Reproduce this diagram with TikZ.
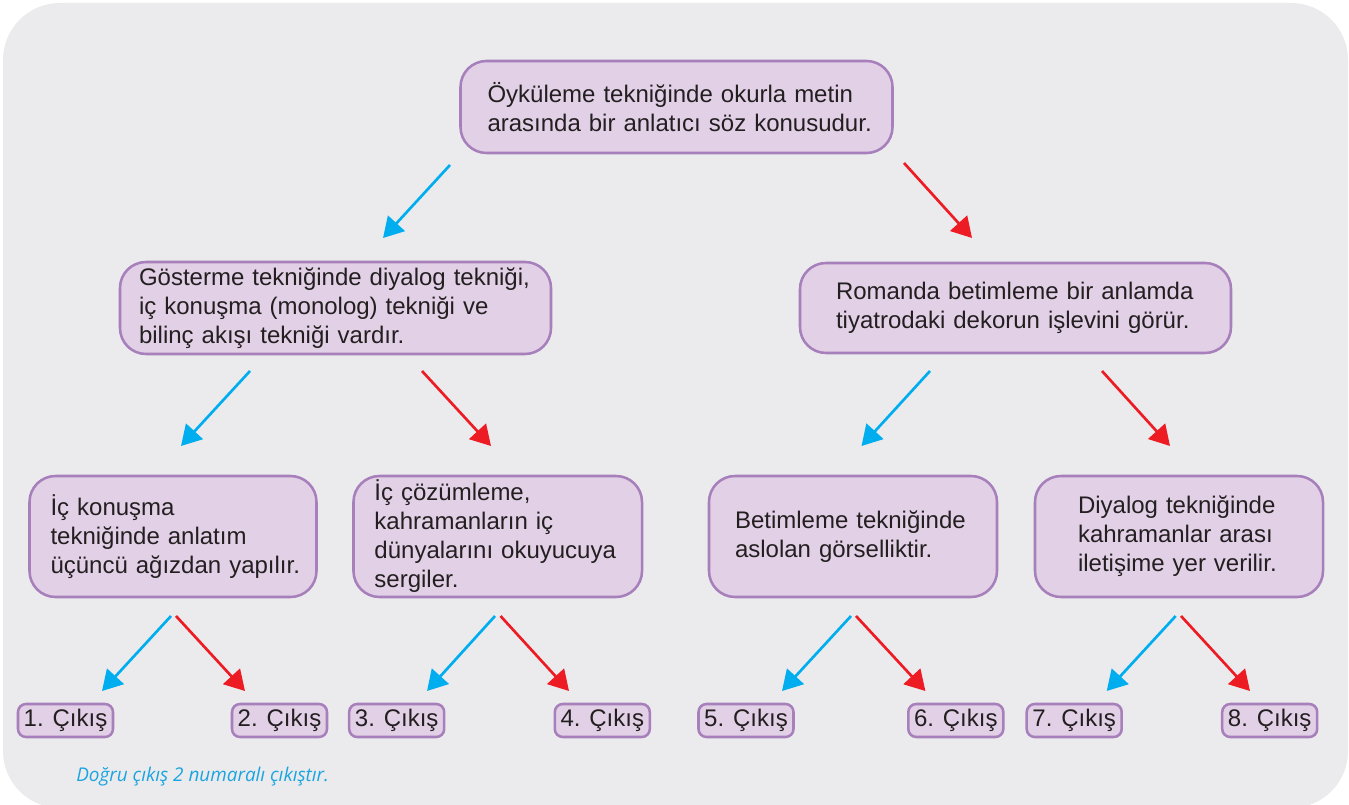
\documentclass[tikz,border=0pt]{standalone}
\usepackage{fontspec}
\setmainfont{Liberation Sans}
\newfontfamily\notefont{Open Sans}
\usetikzlibrary{arrows.meta}
\definecolor{bgc}{HTML}{EBEBED}
\definecolor{boxfill}{HTML}{E2D0E6}
\definecolor{boxline}{HTML}{A67FBB}
\definecolor{arrblue}{HTML}{00AEEF}
\definecolor{arrred}{HTML}{ED1C24}
\definecolor{txt}{HTML}{231F20}
\definecolor{notec}{HTML}{1BA5E0}
\begin{document}
\begin{tikzpicture}[x=0.75pt,y=-0.75pt,
  bigbox/.style={draw=boxline, fill=boxfill, line width=1.9pt, rounded corners=19.5pt,
    inner xsep=0pt, inner ysep=0pt, align=left, text=txt,
    font=\fontsize{18}{21.75}\selectfont},
  exitbox/.style={draw=boxline, fill=boxfill, line width=1.9pt, rounded corners=6pt,
    minimum width=71.25pt, minimum height=24.75pt, inner sep=0pt, text=txt,
    font=\fontsize{18}{21.75}\selectfont},
  bl/.style={draw=arrblue, line width=2pt, -{Triangle[length=15pt,width=17pt]}},
  rd/.style={draw=arrred, line width=2pt, -{Triangle[length=15pt,width=17pt]}}]

\useasboundingbox (0,0) rectangle (1349,805);
\fill[white] (0,0) rectangle (1349,805);
\fill[bgc, rounded corners=42.75pt] (3,3) rectangle (1348,808);

% level 1
\node[bigbox, text width=324pt, minimum height=69pt] (top) at (676.5,107)
  {\leftskip=20.25pt\relax Öyküleme tekniğinde okurla metin\\arasında bir anlatıcı söz konusudur.\par};

% level 2
\node[bigbox, text width=323.25pt, minimum height=69pt] (gos) at (335.5,308)
  {\leftskip=14.25pt\relax Gösterme tekniğinde diyalog tekniği,\\iç konuşma (monolog) tekniği ve\\bilinç akışı tekniği vardır.\par};
\node[bigbox, text width=323.25pt, minimum height=67.5pt] (rom) at (1015.5,308)
  {\leftskip=27pt\relax Romanda betimleme bir anlamda\\tiyatrodaki dekorun işlevini görür.\par};

% level 3
\node[bigbox, text width=215.25pt, minimum height=90.75pt] (ick) at (173,536.5)
  {\leftskip=15.75pt\relax İç konuşma\\tekniğinde anlatım\\üçüncü ağızdan yapılır.\par};
\node[bigbox, text width=216.4pt, minimum height=90.75pt] (icc) at (497.75,536.5)
  {\leftskip=15.75pt\relax İç çözümleme,\\kahramanların iç\\dünyalarını okuyucuya\\sergiler.\par};
\node[bigbox, text width=216pt, minimum height=90.75pt] (bet) at (853,536.5)
  {\leftskip=19.5pt\relax Betimleme tekniğinde\\aslolan görselliktir.\par};
\node[bigbox, text width=216pt, minimum height=90.75pt] (diy) at (1179,536.5)
  {\leftskip=32.25pt\relax Diyalog tekniğinde\\kahramanlar arası\\iletişime yer verilir.\par};

% exits
\node[exitbox] (e1) at (65.5,720.5) {1. Çıkış};
\node[exitbox] (e2) at (279.5,720.5) {2. Çıkış};
\node[exitbox] (e3) at (396.7,720.5) {3. Çıkış};
\node[exitbox] (e4) at (602.3,720.5) {4. Çıkış};
\node[exitbox] (e5) at (746,720.5) {5. Çıkış};
\node[exitbox] (e6) at (955.8,720.5) {6. Çıkış};
\node[exitbox] (e7) at (1074.2,720.5) {7. Çıkış};
\node[exitbox] (e8) at (1269.7,720.5) {8. Çıkış};

% arrow end points
\coordinate (a1s) at (450,165);   \coordinate (a1e) at (383,238);
\coordinate (a2s) at (904,163);   \coordinate (a2e) at (972,238);
\coordinate (b1s) at (250,371);   \coordinate (b1e) at (181,446);
\coordinate (b2s) at (422,371);   \coordinate (b2e) at (491,446);
\coordinate (c1s) at (930,371);   \coordinate (c1e) at (861.5,446);
\coordinate (c2s) at (1102,371);  \coordinate (c2e) at (1170,446);
\coordinate (d1s) at (171,616);   \coordinate (d1e) at (102,691);
\coordinate (d2s) at (176,616);   \coordinate (d2e) at (245,691);
\coordinate (f1s) at (495,616);   \coordinate (f1e) at (427,691);
\coordinate (f2s) at (500.5,616); \coordinate (f2e) at (569,691);
\coordinate (g1s) at (851,616);   \coordinate (g1e) at (782,691);
\coordinate (g2s) at (856,616);   \coordinate (g2e) at (925.4,691);
\coordinate (h1s) at (1175.7,616);\coordinate (h1e) at (1106.7,691);
\coordinate (h2s) at (1181,616);  \coordinate (h2e) at (1250,691);

\draw[bl] (a1s) -- (a1e);  \draw[rd] (a2s) -- (a2e);
\draw[bl] (b1s) -- (b1e);  \draw[rd] (b2s) -- (b2e);
\draw[bl] (c1s) -- (c1e);  \draw[rd] (c2s) -- (c2e);
\draw[bl] (d1s) -- (d1e);  \draw[rd] (d2s) -- (d2e);
\draw[bl] (f1s) -- (f1e);  \draw[rd] (f2s) -- (f2e);
\draw[bl] (g1s) -- (g1e);  \draw[rd] (g2s) -- (g2e);
\draw[bl] (h1s) -- (h1e);  \draw[rd] (h2s) -- (h2e);

\node[anchor=west, inner sep=0pt, text=notec,
  font=\notefont\itshape\fontsize{14.2}{17}\selectfont] (note) at (76,777)
  {Doğru çıkış 2 numaralı çıkıştır.};
\end{tikzpicture}
\end{document}
